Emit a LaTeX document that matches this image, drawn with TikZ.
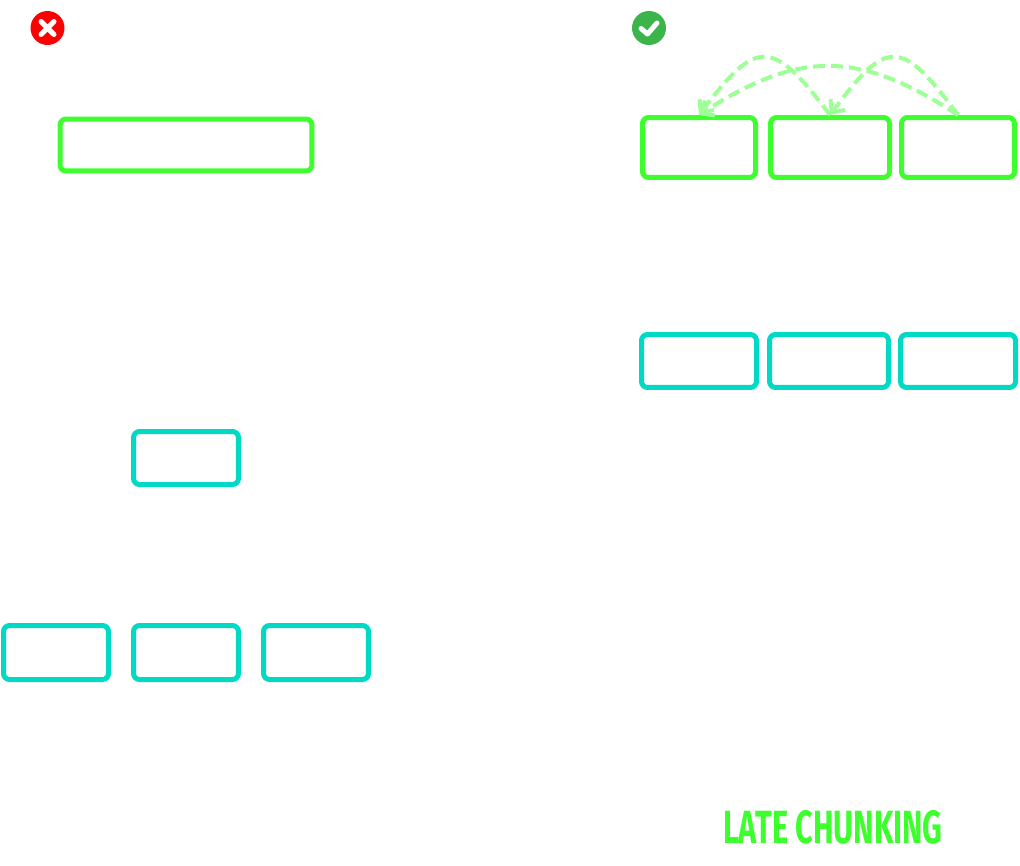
\documentclass[tikz,border=0pt]{standalone}
\usepackage{fontspec}
\newfontfamily\chunkfont{Fira Sans}[FakeStretch=0.66]
\usetikzlibrary{arrows.meta}
\definecolor{chunkgreen}{HTML}{3DFF2E}
\definecolor{tokenteal}{HTML}{00D9C3}
\definecolor{okgreen}{HTML}{3BB54A}
\definecolor{badred}{HTML}{FF0000}
\tikzset{
  chunk/.style={draw=chunkgreen,line width=0.1cm,rounded corners=0.12cm,inner sep=0pt},
  token/.style={draw=tokenteal,line width=0.1cm,rounded corners=0.12cm,inner sep=0pt},
  link/.style={draw=chunkgreen!50,dash pattern=on 0.24cm off 0.12cm,line width=0.08cm,
    -{Straight Barb[length=0.2cm,width=0.36cm]}}
}
\begin{document}
\begin{tikzpicture}[x=0.02cm,y=-0.02cm]
  \useasboundingbox (0,0) rectangle (1020,865);

  \begin{scope}
    \fill[badred] (47.5,28) circle (0.34cm);
    \draw[white,line width=0.1cm,line cap=round] (41,21.5) -- (54,34.5) (41,34.5) -- (54,21.5);
    \node[chunk,minimum width=5.04cm,minimum height=1.04cm] (doc) at (186,145) {};
    \node[token,minimum width=2.1cm,minimum height=1.06cm] (pooled) at (186,458) {};
    \foreach \x/\n in {56/1,186/2,316/3}
      \node[token,minimum width=2.1cm,minimum height=1.08cm] (split\n) at (\x,652.5) {};
  \end{scope}

  \begin{scope}
    \fill[okgreen] (649,28) circle (0.34cm);
    \draw[white,line width=0.1cm,line cap=round,line join=round] (641,28.5) -- (647.5,34) -- (657,23);
    \node[chunk,minimum width=2.26cm,minimum height=1.2cm] (c1) at (699,147.5) {};
    \node[chunk,minimum width=2.38cm,minimum height=1.2cm] (c2) at (830,147.5) {};
    \node[chunk,minimum width=2.26cm,minimum height=1.2cm] (c3) at (958,147.5) {};
    \node[token,minimum width=2.3cm,minimum height=1.06cm] (e1) at (699,361) {};
    \node[token,minimum width=2.38cm,minimum height=1.06cm] (e2) at (829,361) {};
    \node[token,minimum width=2.3cm,minimum height=1.06cm] (e3) at (958,361) {};

    \draw[link] (c3.north) .. controls (859,50) and (799,50) .. (c1.north);
    \draw[link] (c3.north) .. controls (901,38) and (887,38) .. (c2.north);
    \draw[link] (c2.north) .. controls (772,38) and (757,38) .. (c1.north);

    \node[text=chunkgreen,font=\chunkfont\bfseries\fontsize{26.5}{26.5}\selectfont] (title) at (833,827) {LATE CHUNKING};
  \end{scope}
\end{tikzpicture}
\end{document}
